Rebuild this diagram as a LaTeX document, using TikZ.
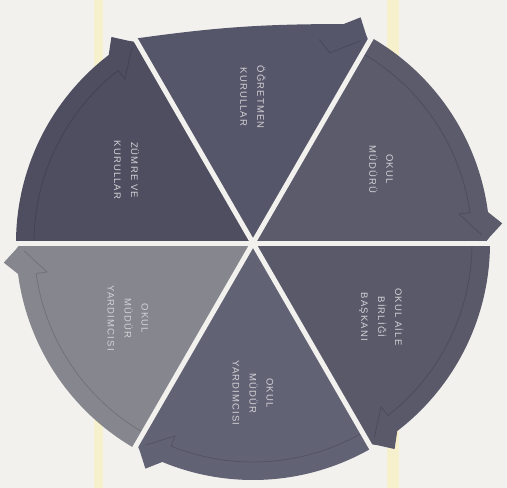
\documentclass[tikz,border=0pt]{standalone}
\usepackage{fontspec}
\setmainfont{Liberation Sans}
\newfontfamily\lblfont[LetterSpace=12]{Liberation Sans}
\definecolor{bg}{HTML}{F3F1EE}
\definecolor{stripe}{HTML}{F7F0CC}
\definecolor{sUL}{HTML}{4E4E60}
\definecolor{sT}{HTML}{56566A}
\definecolor{sUR}{HTML}{5B5B6C}
\definecolor{sLR}{HTML}{59596A}
\definecolor{sB}{HTML}{626275}
\definecolor{sLL}{HTML}{86868F}
\definecolor{txt}{HTML}{D2D2D6}
\tikzset{
  lbl/.style={rotate=-90, align=center, text=txt, font=\lblfont\fontsize{9.5}{17}\selectfont},
  gapline/.style={draw=bg, line width=5pt},
  innerline/.style={line width=0.8pt}
}
\begin{document}
\begin{tikzpicture}[x=1pt,y=1pt]
\useasboundingbox (-253,-245) rectangle (254,243);
\fill[bg] (-253,-245) rectangle (254,243);
\fill[stripe] (-159,-245) rectangle (-150,243);
\fill[stripe] (134,-245) rectangle (146,243);
% sectors (clockwise arrows, tip at the lower angle)
\foreach \lo/\col in {120/sUL, 0/sUR, -60/sLR, -120/sB, 180/sLL}{
  \fill[\col] (0,0) -- (\lo+60:237) arc[start angle=\lo+60, end angle=\lo+7.5, radius=237]
     -- (\lo+4.5:250) -- (\lo+1.5:237) -- (\lo:232) -- cycle;
  \draw[innerline, \col!85!black] (\lo+60:219) arc[start angle=\lo+60, end angle=\lo+8, radius=219]
     -- (\lo+8:208) -- (\lo+2:229);
}
% top sector (flattened outer edge)
\fill[sT] (0,0) -- (120:236) to[bend left=4] (67.5:237) -- (64.5:250) -- (61.5:237) -- (60:232) -- cycle;
\draw[innerline, sT!85!black] (72:214) -- (68:205) -- (62:229);
% gaps
\foreach \a in {0,60,...,300}{
  \draw[gapline] (0,0) -- (\a:246);
}
\node[lbl] (t1) at (90:146) {ÖĞRETMEN\\KURULLAR};
\node[lbl] (t2) at (30:148) {OKUL\\MÜDÜRÜ};
\node[lbl] (t3) at (-30:148) {OKUL AİLE\\BİRLİĞİ\\BAŞKANI};
\node[lbl] (t4) at (-90:150) {OKUL\\MÜDÜR\\YARDIMCISI};
\node[lbl] (t5) at (-149:146) {OKUL\\MÜDÜR\\YARDIMCISI};
\node[lbl] (t6) at (150:146) {ZÜMRE VE\\KURULLAR};
\end{tikzpicture}
\end{document}
